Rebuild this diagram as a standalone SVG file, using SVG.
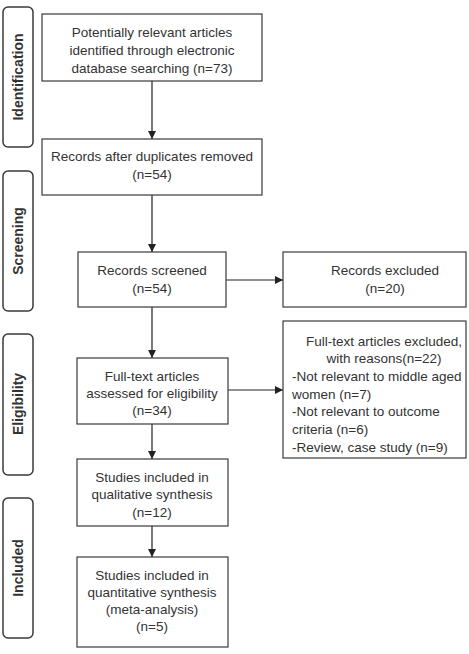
<svg xmlns="http://www.w3.org/2000/svg" width="469" height="654" viewBox="0 0 469 654">
<style>
.box{fill:#fff;stroke:#3a3a3a;stroke-width:1.2}
.side{fill:#fff;stroke:#3a3a3a;stroke-width:1.5}
.t{font-family:"Liberation Sans",Arial,sans-serif;font-size:13.5px;fill:#333;text-anchor:middle}
.l{text-anchor:start}
.s{font-family:"Liberation Sans",Arial,sans-serif;font-size:14px;font-weight:bold;fill:#333;text-anchor:middle}
.c{stroke:#222;stroke-width:1.2;fill:none;marker-end:url(#ah)}
</style>
<defs>
<marker id="ah" viewBox="0 0 10 10" refX="10" refY="5" markerWidth="8" markerHeight="8" markerUnits="userSpaceOnUse" orient="auto">
<path d="M0,0 L10,5 L0,10 z" fill="#222"/>
</marker>
</defs>
<rect width="469" height="654" fill="#fff"/>
<g id="side-identification"><rect class="side" x="3" y="7" width="30" height="140" rx="5"/><text class="s" transform="translate(23,77) rotate(-90)">Identification</text></g>
<g id="side-screening"><rect class="side" x="3" y="171" width="30" height="140" rx="5"/><text class="s" transform="translate(23,241) rotate(-90)">Screening</text></g>
<g id="side-eligibility"><rect class="side" x="3" y="334" width="30" height="141" rx="5"/><text class="s" transform="translate(23,404) rotate(-90)">Eligibility</text></g>
<g id="side-included"><rect class="side" x="3" y="498" width="30" height="140" rx="5"/><text class="s" transform="translate(23,568) rotate(-90)">Included</text></g>

<g id="connectors">
<line class="c" x1="152" y1="81" x2="152" y2="139"/>
<line class="c" x1="152" y1="195" x2="152" y2="252"/>
<line class="c" x1="152" y1="307" x2="152" y2="358"/>
<line class="c" x1="152" y1="424" x2="152" y2="459"/>
<line class="c" x1="152" y1="526" x2="152" y2="557"/>
<line class="c" x1="226" y1="280" x2="283" y2="280"/>
<line class="c" x1="228" y1="390" x2="283" y2="390"/>
</g>

<g id="identified"><rect class="box" x="42" y="14" width="220" height="67"/>
<text class="t" x="152" y="37">Potentially relevant articles</text>
<text class="t" x="152" y="55">identified through electronic</text>
<text class="t" x="152" y="73">database searching (n=73)</text></g>
<g id="deduplicated"><rect class="box" x="42" y="139" width="220" height="56"/>
<text class="t" x="152" y="161">Records after duplicates removed</text>
<text class="t" x="152" y="179">(n=54)</text></g>
<g id="screened"><rect class="box" x="78" y="252" width="148" height="55"/>
<text class="t" x="152" y="275">Records screened</text>
<text class="t" x="152" y="293">(n=54)</text></g>
<g id="excluded"><rect class="box" x="283" y="252" width="183" height="55"/>
<text class="t" x="385" y="275">Records excluded</text>
<text class="t" x="385" y="293">(n=20)</text></g>
<g id="assessed"><rect class="box" x="77" y="358" width="151" height="66"/>
<text class="t" x="152" y="381">Full-text articles</text>
<text class="t" x="152" y="398">assessed for eligibility</text>
<text class="t" x="152" y="415">(n=34)</text></g>
<g id="fulltext-excluded"><rect class="box" x="283" y="321" width="183" height="137"/>
<text class="t" x="384" y="346">Full-text articles excluded,</text>
<text class="t" x="384" y="363">with reasons(n=22)</text>
<text class="t l" x="292" y="381">-Not relevant to middle aged</text>
<text class="t l" x="292" y="399">women (n=7)</text>
<text class="t l" x="292" y="416">-Not relevant to outcome</text>
<text class="t l" x="292" y="434">criteria (n=6)</text>
<text class="t l" x="292" y="452">-Review, case study (n=9)</text></g>
<g id="qualitative"><rect class="box" x="77" y="459" width="151" height="67"/>
<text class="t" x="152" y="482">Studies included in</text>
<text class="t" x="152" y="499">qualitative synthesis</text>
<text class="t" x="152" y="517">(n=12)</text></g>
<g id="quantitative"><rect class="box" x="77" y="557" width="151" height="90"/>
<text class="t" x="152" y="580">Studies included in</text>
<text class="t" x="152" y="597">quantitative synthesis</text>
<text class="t" x="152" y="614">(meta-analysis)</text>
<text class="t" x="152" y="631">(n=5)</text></g>
</svg>
